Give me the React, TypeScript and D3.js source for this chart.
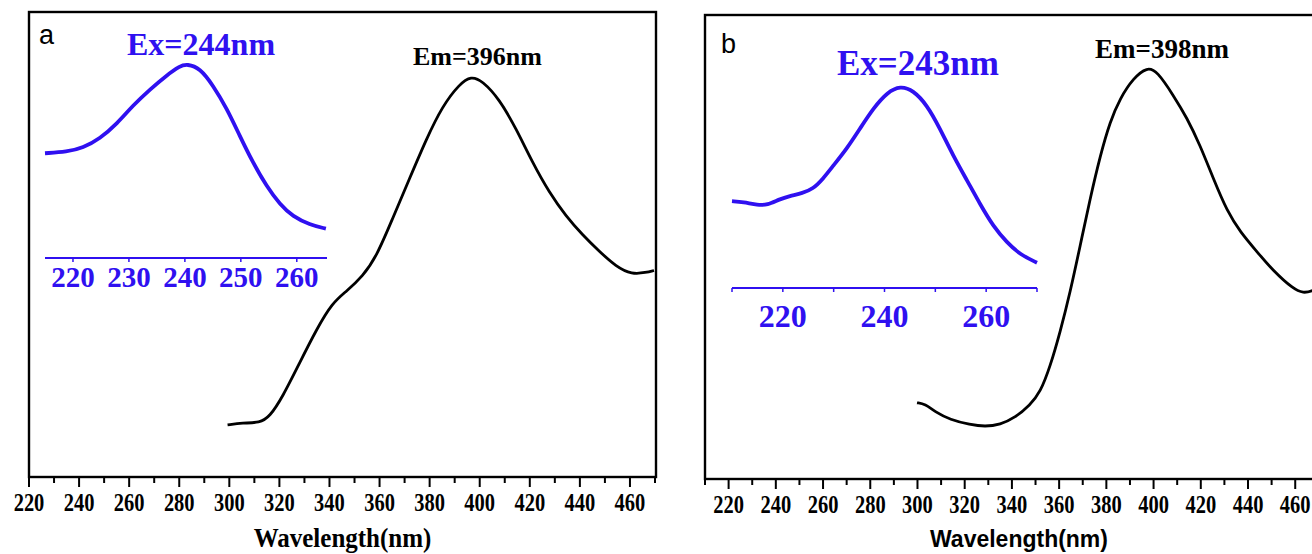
import React from 'react';
import * as d3 from 'd3';

// panel a: emission (main) and excitation (inset), intensity in a.u.
const emA_nm = [299.3, 305.3, 312.1, 316.1, 321.3, 328.1, 334.8, 341.2, 346.8, 353.2, 358.8, 365.1, 371.9, 378.7, 385.1, 391.9, 396.6, 401, 407.8, 414.6, 421, 427.7, 434.5, 440.9, 447.7, 454.4, 460.8, 466.4, 469.6];
const emA_val = [0.13, 0.135, 0.135, 0.15, 0.2, 0.285, 0.368, 0.435, 0.463, 0.5, 0.55, 0.643, 0.743, 0.843, 0.925, 0.98, 1.0, 0.988, 0.943, 0.868, 0.785, 0.71, 0.65, 0.605, 0.563, 0.525, 0.505, 0.51, 0.515];
const exA_nm = [215, 218.9, 221.8, 224.8, 227.9, 230.7, 233.8, 236.8, 239.1, 240.4, 242.7, 245, 247.5, 249.8, 252.1, 254.6, 257, 259.3, 262.3, 265.2];
const exA_val = [0.54, 0.547, 0.568, 0.615, 0.693, 0.786, 0.87, 0.943, 0.99, 1.0, 0.979, 0.891, 0.771, 0.63, 0.495, 0.37, 0.276, 0.214, 0.172, 0.151];

// panel b
const emB_nm = [299.8, 303.2, 307.5, 313.8, 322.3, 328.6, 335, 341.4, 347.7, 352, 356.2, 360.4, 364.7, 368.9, 373.1, 377.4, 381.6, 385.8, 391.4, 397.3, 401.5, 408.3, 414.2, 419.7, 425.3, 431.2, 436.7, 443.9, 450.7, 459.2, 463.4, 467.2, 472];
const emB_val = [0.185, 0.182, 0.163, 0.144, 0.132, 0.127, 0.132, 0.149, 0.18, 0.21, 0.273, 0.356, 0.454, 0.566, 0.68, 0.785, 0.868, 0.924, 0.973, 1.0, 0.99, 0.932, 0.876, 0.81, 0.729, 0.649, 0.6, 0.551, 0.505, 0.461, 0.451, 0.456, 0.47];
const exB_nm = [210, 212.2, 215.1, 216.9, 219.4, 221.3, 223.9, 225.9, 227.9, 229.9, 232.6, 235.2, 237.8, 240.6, 243.1, 245.6, 248.4, 250.9, 253.5, 256.3, 258.8, 261.4, 264.1, 266.7, 270];
const exB_val = [0.43, 0.425, 0.41, 0.41, 0.44, 0.455, 0.47, 0.49, 0.54, 0.605, 0.69, 0.79, 0.89, 0.97, 1.0, 0.98, 0.905, 0.79, 0.655, 0.53, 0.415, 0.305, 0.225, 0.165, 0.125];

const mainTicks = [220, 240, 260, 280, 300, 320, 340, 360, 380, 400, 420, 440, 460];
const insetTicksA = [220, 230, 240, 250, 260];
const insetLabelsB = [220, 240, 260];
const insetTicksB = [210, 220, 230, 240, 250, 260, 270];

const BLUE = '#2f10f0';
const SERIF = '"Liberation Serif", "Times New Roman", serif';
const SANS = '"Liberation Sans", Arial, sans-serif';

const zip = (xs, ys) => xs.map((x, i) => [x, ys[i]]);

const Panel = ({ cfg }) => {
    const x = d3.scaleLinear().domain(cfg.xDomain).range([cfg.left, cfg.right]);
    const y = d3.scaleLinear().domain([0, 1]).range([cfg.bottom, cfg.peakY]);
    const ix = d3.scaleLinear().domain(cfg.insetDomain).range(cfg.insetRange);
    const iy = d3.scaleLinear().domain([0, 1]).range([cfg.insetAxisY, cfg.insetPeakY]);

    const line = d3.line().x(d => x(d[0])).y(d => y(d[1])).curve(d3.curveBasis);
    const iline = d3.line().x(d => ix(d[0])).y(d => iy(d[1])).curve(d3.curveBasis);

    const minor = d3.range(cfg.xDomain[0] % 20 === 0 ? cfg.xDomain[0] + 10 : cfg.xDomain[0], cfg.xDomain[1], 20);
    const labelY = cfg.bottom + 34;

    return (
        <g>
            <path d={line(zip(cfg.emNm, cfg.emVal))} fill="none" stroke="#000" strokeWidth={2.8} />
            <path d={iline(zip(cfg.exNm, cfg.exVal))} fill="none" stroke={BLUE} strokeWidth={3.8} />

            {/* inset axis */}
            <line x1={ix(cfg.insetDomain[0])} x2={ix(cfg.insetDomain[1])} y1={cfg.insetAxisY} y2={cfg.insetAxisY} stroke={BLUE} strokeWidth={2} />
            {cfg.insetTicks.map(t => (
                <line key={t} x1={ix(t)} x2={ix(t)} y1={cfg.insetAxisY} y2={cfg.insetAxisY + 4} stroke={BLUE} strokeWidth={1.5} />
            ))}
            {cfg.insetLabels.map(t => (
                <text key={t} x={ix(t)} y={cfg.insetLabelY} textAnchor="middle" fontFamily={SERIF} fontWeight="bold" fontSize={cfg.insetFont} fill={BLUE}>{t}</text>
            ))}

            {/* frame */}
            <rect x={cfg.left} y={cfg.top} width={cfg.right - cfg.left} height={cfg.bottom - cfg.top} fill="none" stroke="#000" strokeWidth={2.4} />

            {/* bottom axis ticks */}
            {minor.map(t => (
                <line key={'m' + t} x1={x(t)} x2={x(t)} y1={cfg.bottom} y2={cfg.bottom + 6} stroke="#000" strokeWidth={2} />
            ))}
            {mainTicks.map(t => (
                <g key={t}>
                    <line x1={x(t)} x2={x(t)} y1={cfg.bottom} y2={cfg.bottom + 10} stroke="#000" strokeWidth={2} />
                    <text transform={`translate(${x(t)},${labelY}) scale(1,1.2)`} textAnchor="middle" fontFamily={SERIF} fontWeight="bold" fontSize={20.5}>{t}</text>
                </g>
            ))}
            <text transform={`translate(${(cfg.left + cfg.right) / 2},547) scale(1,1.08)`} textAnchor="middle" fontFamily={cfg.titleFont} fontWeight="bold" fontSize={cfg.titleSize}>Wavelength(nm)</text>

            <text x={cfg.letterX} y={cfg.letterY} fontFamily={SANS} fontSize={27}>{cfg.letter}</text>
            <text x={cfg.exX} y={cfg.exY} fontFamily={SERIF} fontWeight="bold" fontSize={cfg.exSize} fill={BLUE}>{cfg.exLabel}</text>
            <text x={cfg.emX} y={cfg.emY} fontFamily={SERIF} fontWeight="bold" fontSize={cfg.emSize}>{cfg.emLabel}</text>
        </g>
    );
};

const panelA = {
    xDomain: [220, 470.4], left: 29, right: 656, top: 12, bottom: 477, peakY: 76,
    insetDomain: [215, 265.4], insetRange: [45, 327], insetAxisY: 258, insetPeakY: 64,
    insetTicks: insetTicksA, insetLabels: insetTicksA, insetLabelY: 287, insetFont: 29,
    emNm: emA_nm, emVal: emA_val, exNm: exA_nm, exVal: exA_val,
    titleFont: SERIF, titleSize: 25,
    letter: 'a', letterX: 39, letterY: 44,
    exLabel: 'Ex=244nm', exX: 127, exY: 55, exSize: 32,
    emLabel: 'Em=396nm', emX: 413, emY: 65, emSize: 26,
};

const panelB = {
    xDomain: [210, 476], left: 705, right: 1333, top: 15, bottom: 479, peakY: 67,
    insetDomain: [210, 270], insetRange: [732, 1037], insetAxisY: 288, insetPeakY: 86,
    insetTicks: insetTicksB, insetLabels: insetLabelsB, insetLabelY: 327, insetFont: 32,
    emNm: emB_nm, emVal: emB_val, exNm: exB_nm, exVal: exB_val,
    titleFont: SANS, titleSize: 23,
    letter: 'b', letterX: 721, letterY: 53,
    exLabel: 'Ex=243nm', exX: 837, exY: 75, exSize: 35,
    emLabel: 'Em=398nm', emX: 1095, emY: 58, emSize: 27,
};

export default function App() {
    return (
        <svg width={1312} height={554} style={{ position: 'absolute', left: 0, top: 0, background: '#fff' }}>
            <Panel cfg={panelA} />
            <Panel cfg={panelB} />
        </svg>
    );
}
